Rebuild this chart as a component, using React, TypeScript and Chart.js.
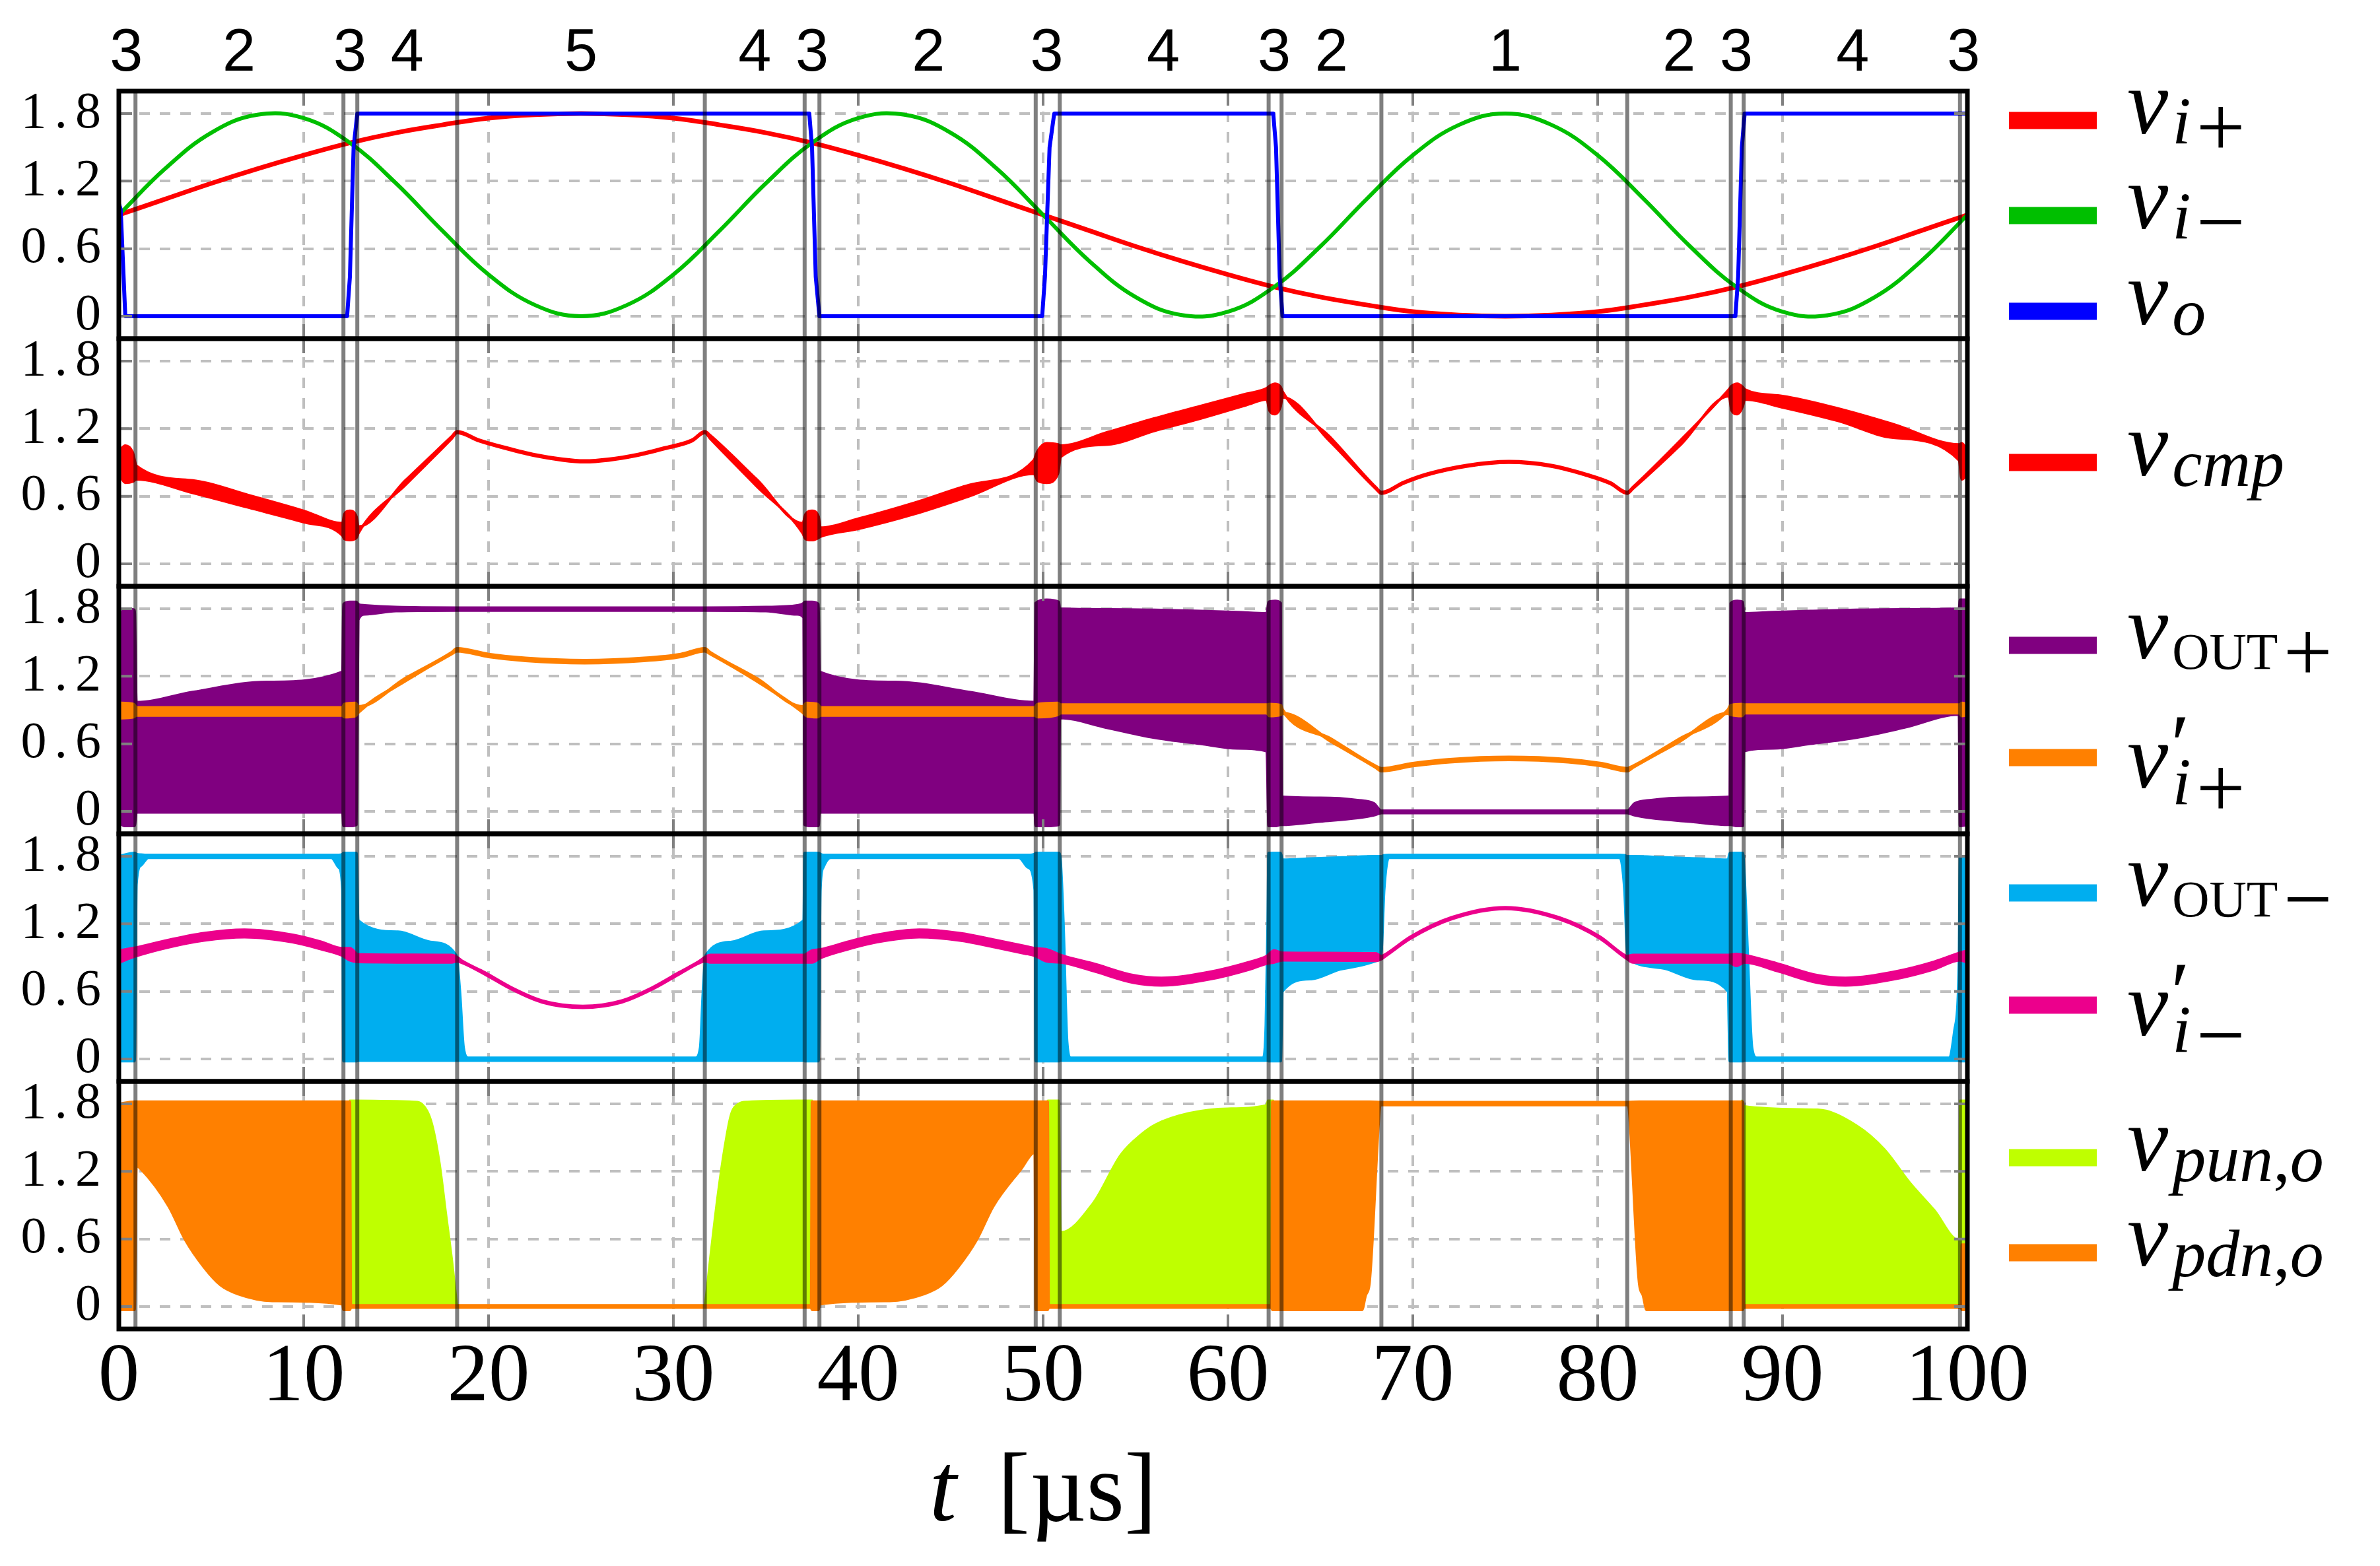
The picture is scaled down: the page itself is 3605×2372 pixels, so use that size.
import React, { useEffect, useRef } from 'react';
import { Chart, registerables } from 'chart.js';

Chart.register(...registerables);

const W = 3605;
const H = 2372;
const SERIF = '"Liberation Serif", "DejaVu Serif", serif';
const SANS = '"Liberation Sans", "DejaVu Sans", Arial, sans-serif';

const RED = '#ff0000';
const GREEN = '#00bf00';
const BLUE = '#0000ff';
const PURPLE = '#800080';
const ORANGE = '#ff8000';
const CYAN = '#00aeef';
const MAGENTA = '#ec008c';
const LIME = '#bfff00';
const GRID = '#bfbfbf';

// ---- axes / labels ----
const xTicks = [0, 10, 20, 30, 40, 50, 60, 70, 80, 90, 100];
const yTicks = [0, 0.6, 1.2, 1.8];
const yTickLabels = ['0', '0.6', '1.2', '1.8'];
const phaseLines = [0.9, 12.15, 12.9, 18.3, 31.7, 37.1, 37.9, 49.6, 50.9, 62.2, 62.9, 68.3, 81.6, 87.2, 87.9, 99.6];
const phaseLabelT = [0.4, 6.5, 12.5, 15.6, 25, 34.4, 37.5, 43.8, 50.2, 56.5, 62.5, 65.6, 75, 84.4, 87.5, 93.8, 99.8];
const phaseLabels = ['3', '2', '3', '4', '5', '4', '3', '2', '3', '4', '3', '2', '1', '2', '3', '4', '3'];

// ---- panel 1 ----
const tSine = [0, 2.5, 5, 7.5, 10, 12.5, 15, 17.5, 20, 22.5, 25, 27.5, 30, 32.5, 35, 37.5, 40, 42.5, 45, 47.5, 50, 52.5, 55, 57.5, 60, 62.5, 65, 67.5, 70, 72.5, 75, 77.5, 80, 82.5, 85, 87.5, 90, 92.5, 95, 97.5, 100];
const vIplus = [0.90, 1.04, 1.18, 1.31, 1.43, 1.54, 1.63, 1.70, 1.76, 1.79, 1.80, 1.79, 1.76, 1.70, 1.63, 1.54, 1.43, 1.31, 1.18, 1.04, 0.90, 0.76, 0.62, 0.49, 0.37, 0.26, 0.17, 0.10, 0.04, 0.01, 0.00, 0.01, 0.04, 0.10, 0.17, 0.26, 0.37, 0.49, 0.62, 0.76, 0.90];
const vIminus = [0.90, 1.31, 1.63, 1.79, 1.76, 1.54, 1.18, 0.76, 0.37, 0.10, 0.00, 0.10, 0.37, 0.76, 1.18, 1.54, 1.76, 1.79, 1.63, 1.31, 0.90, 0.49, 0.17, 0.01, 0.04, 0.26, 0.62, 1.04, 1.43, 1.70, 1.80, 1.70, 1.43, 1.04, 0.62, 0.26, 0.04, 0.01, 0.17, 0.49, 0.90];
const tVo = [0, 0.1, 0.35, 12.35, 12.5, 12.7, 12.9, 37.35, 37.5, 37.7, 37.9, 49.95, 50.1, 50.35, 50.6, 62.45, 62.6, 62.8, 62.95, 87.45, 87.6, 87.8, 87.95, 100];
const vO = [1.0, 0.95, 0.0, 0.0, 0.35, 1.5, 1.8, 1.8, 1.5, 0.35, 0.0, 0.0, 0.35, 1.5, 1.8, 1.8, 1.5, 0.35, 0.0, 0.0, 0.35, 1.5, 1.8, 1.8];

// ---- panel 2: v_cmp envelope ----
const tCmp = [0, 0.35, 0.75, 0.95, 4, 7, 10, 12.1, 12.2, 12.5, 12.85, 12.95, 15.5, 18.0, 18.3, 19.5, 21, 22.5, 24, 25.2, 26.5, 28, 29.5, 31, 31.7, 32.0, 34.5, 37.0, 37.15, 37.5, 37.85, 37.95, 40, 43, 46, 49.5, 49.7, 50.2, 50.8, 50.95, 53.5, 56, 58.5, 61, 62.1, 62.25, 62.55, 62.85, 62.95, 65.5, 68.0, 68.3, 69.5, 70.8, 72.9, 75.2, 77.5, 79.5, 80.7, 81.6, 81.9, 84.5, 87.1, 87.25, 87.55, 87.85, 87.95, 90, 93, 96, 99.55, 99.7, 100];
const vCmpHi = [1.00, 1.05, 0.99, 0.87, 0.74, 0.61, 0.47, 0.36, 0.44, 0.47, 0.42, 0.33, 0.74, 1.13, 1.177, 1.102, 1.032, 0.972, 0.932, 0.917, 0.932, 0.972, 1.032, 1.102, 1.177, 1.14, 0.75, 0.36, 0.44, 0.47, 0.42, 0.32, 0.40, 0.54, 0.70, 0.92, 1.00, 1.07, 1.06, 1.05, 1.17, 1.29, 1.40, 1.51, 1.56, 1.58, 1.60, 1.57, 1.53, 1.13, 0.68, 0.637, 0.727, 0.802, 0.877, 0.912, 0.877, 0.792, 0.722, 0.637, 0.68, 1.10, 1.55, 1.58, 1.60, 1.57, 1.55, 1.49, 1.38, 1.24, 1.06, 1.07, 1.00];
const vCmpLo = [0.80, 0.72, 0.73, 0.75, 0.63, 0.50, 0.37, 0.25, 0.22, 0.21, 0.23, 0.27, 0.70, 1.11, 1.163, 1.088, 1.018, 0.958, 0.918, 0.903, 0.918, 0.958, 1.018, 1.088, 1.163, 1.11, 0.69, 0.27, 0.22, 0.21, 0.23, 0.24, 0.31, 0.44, 0.60, 0.80, 0.74, 0.72, 0.80, 0.95, 1.06, 1.18, 1.29, 1.41, 1.46, 1.36, 1.33, 1.40, 1.48, 1.09, 0.665, 0.623, 0.713, 0.788, 0.863, 0.898, 0.863, 0.778, 0.708, 0.623, 0.665, 1.06, 1.49, 1.36, 1.33, 1.40, 1.46, 1.39, 1.27, 1.12, 0.92, 0.75, 0.80];

// ---- panel 3 ----
const tIpPrime = [0, 0.8, 0.95, 12.1, 12.2, 12.8, 12.95, 15.5, 18.0, 18.3, 20, 22, 25.2, 28.4, 30.4, 31.7, 32.0, 34.5, 37.0, 37.2, 37.8, 37.95, 49.55, 49.7, 50.8, 50.95, 62.1, 62.25, 62.85, 62.95, 65.6, 68.0, 68.3, 70, 72, 75.2, 78.4, 80.2, 81.6, 81.9, 84.4, 87.05, 87.2, 87.8, 87.95, 99.6, 99.7, 100];
const vIpPrimeHi = [0.96, 0.95, 0.92, 0.92, 0.95, 0.96, 0.93, 1.18, 1.41, 1.445, 1.395, 1.36, 1.34, 1.36, 1.395, 1.445, 1.41, 1.18, 0.93, 0.96, 0.95, 0.92, 0.92, 0.95, 0.96, 0.945, 0.945, 0.95, 0.94, 0.90, 0.64, 0.40, 0.38, 0.425, 0.46, 0.48, 0.46, 0.425, 0.38, 0.40, 0.64, 0.90, 0.94, 0.95, 0.945, 0.945, 0.96, 0.95];
const vIpPrimeLo = [0.83, 0.84, 0.855, 0.855, 0.84, 0.85, 0.88, 1.16, 1.40, 1.425, 1.375, 1.34, 1.32, 1.34, 1.375, 1.425, 1.40, 1.16, 0.88, 0.85, 0.84, 0.855, 0.855, 0.84, 0.86, 0.875, 0.875, 0.85, 0.86, 0.87, 0.62, 0.39, 0.36, 0.405, 0.44, 0.46, 0.44, 0.405, 0.36, 0.39, 0.62, 0.87, 0.86, 0.85, 0.875, 0.875, 0.85, 0.86];
const tOutP = [0, 0.3, 0.85, 0.95, 4, 8, 12.1, 12.15, 12.5, 12.85, 12.95, 13.3, 15, 18.3, 31.7, 35, 36.7, 37.05, 37.1, 37.5, 37.85, 37.9, 42, 46, 49.55, 49.6, 50.2, 50.85, 50.9, 53.4, 56, 58.5, 60.5, 62.1, 62.2, 62.55, 62.85, 62.9, 65, 67, 67.9, 68.3, 81.6, 82.0, 82.9, 84.9, 87.15, 87.2, 87.55, 87.85, 87.9, 89.5, 91.5, 94, 96.6, 99.55, 99.6, 100];
const vOutPHi = [1.70, 1.80, 1.79, 0.97, 1.06, 1.15, 1.24, 1.84, 1.86, 1.86, 1.84, 1.83, 1.815, 1.81, 1.81, 1.815, 1.83, 1.85, 1.86, 1.86, 1.84, 1.24, 1.15, 1.06, 0.97, 1.85, 1.88, 1.86, 1.80, 1.795, 1.79, 1.78, 1.77, 1.76, 1.86, 1.87, 1.85, 0.13, 0.12, 0.10, 0.07, 0.005, 0.005, 0.07, 0.10, 0.12, 0.13, 1.85, 1.87, 1.86, 1.76, 1.77, 1.78, 1.79, 1.795, 1.80, 1.88, 1.88];
const vOutPLo = [-0.10, -0.13, -0.13, -0.01, -0.01, -0.01, -0.01, -0.13, -0.13, -0.12, 1.70, 1.75, 1.78, 1.785, 1.785, 1.78, 1.75, 1.72, -0.12, -0.13, -0.13, -0.01, -0.01, -0.01, -0.01, -0.13, -0.13, -0.12, 0.83, 0.745, 0.655, 0.60, 0.56, 0.535, -0.13, -0.13, -0.12, -0.12, -0.09, -0.06, -0.035, -0.015, -0.015, -0.035, -0.06, -0.09, -0.12, -0.12, -0.13, -0.13, 0.535, 0.56, 0.60, 0.655, 0.745, 0.86, -0.13, -0.12];

// ---- panel 4 ----
const tImPrime = [0, 0.9, 2.7, 4.6, 6.8, 9.4, 10.9, 12.1, 12.5, 12.95, 18.0, 18.3, 18.6, 19.8, 21.2, 22.9, 25.1, 27.2, 28.9, 30.3, 31.4, 31.7, 32.0, 37.05, 37.5, 37.95, 39.5, 41, 43.3, 45.5, 47.4, 49.0, 49.55, 50.2, 50.95, 52.7, 54.9, 56.4, 59, 61.2, 62.1, 62.5, 62.95, 68.0, 68.3, 68.6, 69.9, 72.1, 75, 77.9, 80.1, 81.3, 81.6, 81.9, 87.1, 87.5, 87.95, 89.7, 91.9, 93.4, 96, 98.2, 99.6, 100];
const vImPrimeHi = [0.96, 0.985, 1.055, 1.115, 1.145, 1.10, 1.04, 0.98, 0.98, 0.925, 0.92, 0.90, 0.865, 0.765, 0.635, 0.515, 0.467, 0.515, 0.635, 0.765, 0.865, 0.90, 0.92, 0.92, 0.96, 0.97, 1.04, 1.10, 1.145, 1.115, 1.055, 1.00, 0.98, 0.97, 0.92, 0.845, 0.74, 0.717, 0.77, 0.86, 0.91, 0.96, 0.94, 0.935, 0.91, 0.935, 1.085, 1.255, 1.345, 1.255, 1.085, 0.935, 0.91, 0.92, 0.92, 0.93, 0.92, 0.845, 0.74, 0.717, 0.77, 0.86, 0.94, 0.96];
const vImPrimeLo = [0.86, 0.915, 0.995, 1.055, 1.085, 1.04, 0.98, 0.92, 0.88, 0.865, 0.86, 0.87, 0.855, 0.755, 0.625, 0.505, 0.457, 0.505, 0.625, 0.755, 0.855, 0.87, 0.86, 0.86, 0.86, 0.90, 0.98, 1.04, 1.085, 1.055, 0.995, 0.94, 0.92, 0.87, 0.86, 0.785, 0.68, 0.657, 0.71, 0.80, 0.85, 0.86, 0.88, 0.875, 0.89, 0.925, 1.075, 1.245, 1.335, 1.245, 1.075, 0.925, 0.89, 0.86, 0.86, 0.83, 0.86, 0.785, 0.68, 0.657, 0.71, 0.80, 0.88, 0.86];
const tOutM = [0, 0.85, 0.95, 1.2, 1.6, 11.5, 11.9, 12.1, 12.15, 12.85, 12.95, 15.1, 16.85, 18.25, 18.45, 18.65, 18.9, 31.2, 31.45, 31.6, 31.75, 33.15, 34.9, 37.05, 37.1, 37.85, 37.95, 38.1, 38.5, 48.7, 49.2, 49.55, 49.6, 50.85, 50.95, 51.1, 51.3, 51.5, 61.9, 62.05, 62.15, 62.2, 62.85, 62.95, 64.5, 66.2, 68.1, 68.3, 68.45, 68.7, 81.2, 81.45, 81.6, 81.8, 83.7, 85.4, 87.05, 87.15, 87.85, 87.95, 88.1, 88.35, 88.6, 99.0, 99.3, 99.55, 99.6, 100];
const vOutMHi = [1.80, 1.83, 1.82, 1.815, 1.812, 1.812, 1.812, 1.82, 1.83, 1.83, 1.23, 1.13, 1.04, 0.92, 0.60, 0.10, 0.01, 0.01, 0.10, 0.60, 0.92, 1.04, 1.13, 1.23, 1.83, 1.83, 1.82, 1.812, 1.812, 1.812, 1.812, 1.82, 1.83, 1.83, 1.75, 1.20, 0.15, 0.01, 0.01, 0.30, 1.20, 1.83, 1.83, 1.77, 1.78, 1.79, 1.80, 1.80, 1.81, 1.812, 1.812, 1.81, 1.80, 1.80, 1.79, 1.78, 1.77, 1.83, 1.83, 1.60, 1.00, 0.10, 0.01, 0.01, 0.25, 0.90, 1.80, 1.80];
const vOutMLo = [-0.02, -0.02, 1.55, 1.72, 1.788, 1.788, 1.70, 1.50, -0.02, -0.02, -0.015, -0.015, -0.015, -0.015, -0.015, -0.015, -0.015, -0.015, -0.015, -0.015, -0.015, -0.015, -0.015, -0.015, -0.02, -0.02, 1.50, 1.70, 1.788, 1.788, 1.70, 1.50, -0.02, -0.02, -0.015, -0.015, -0.015, -0.015, -0.015, -0.015, -0.015, -0.02, -0.02, 0.60, 0.71, 0.80, 0.875, 0.95, 1.50, 1.788, 1.788, 1.50, 0.95, 0.875, 0.80, 0.71, 0.60, -0.02, -0.02, -0.015, -0.015, -0.015, -0.015, -0.015, -0.015, -0.015, -0.02, -0.02];

// ---- panel 5 ----
const tPdn = [0, 0.85, 0.95, 1.2, 2.7, 3.6, 4.6, 5.5, 6.45, 8.3, 12.1, 12.15, 12.5, 12.55, 37.45, 37.5, 37.85, 37.9, 41.7, 43.55, 44.5, 45.4, 46.4, 47.3, 48.8, 49.55, 49.6, 50.25, 50.3, 62.35, 62.4, 67.25, 67.45, 67.65, 68.3, 81.6, 82.25, 82.45, 82.65, 87.85, 87.9, 99.65, 99.7, 100];
const vPdnHi = [1.80, 1.82, 1.82, 1.82, 1.82, 1.82, 1.82, 1.82, 1.82, 1.82, 1.82, 1.82, 1.82, 0.01, 0.01, 1.82, 1.82, 1.82, 1.82, 1.82, 1.82, 1.82, 1.82, 1.82, 1.82, 1.82, 1.82, 1.82, 0.01, 0.01, 1.82, 1.82, 1.82, 1.82, 1.815, 1.815, 1.82, 1.82, 1.82, 1.82, 0.01, 0.01, 0.55, 0.55];
const vPdnLo = [-0.03, -0.03, 1.25, 1.22, 0.89, 0.59, 0.35, 0.19, 0.11, 0.05, 0.02, -0.03, -0.03, -0.01, -0.01, -0.03, -0.03, 0.02, 0.05, 0.11, 0.19, 0.35, 0.59, 0.89, 1.22, 1.37, -0.03, -0.03, -0.01, -0.01, -0.03, -0.03, 0.10, 0.20, 1.79, 1.79, 0.20, 0.10, -0.03, -0.03, -0.01, -0.01, -0.03, -0.03];
const tPun = [12.5, 16.0, 16.4, 16.9, 17.35, 17.7, 18.05, 18.3, 25, 31.7, 32.0, 32.4, 32.75, 33.1, 33.5, 34.0, 37.5, 44, 50.25, 50.85, 50.95, 52.7, 54.2, 55.3, 56.1, 57.9, 60, 62.1, 62.15, 62.45, 75, 87.8, 87.95, 91.9, 94.0, 95.5, 96.9, 98.2, 99.55, 99.6, 100];
const vPun = [1.83, 1.82, 1.80, 1.65, 1.28, 0.83, 0.38, 0.0, null, 0.0, 0.45, 1.00, 1.40, 1.70, 1.80, 1.82, 1.83, null, 1.83, 1.83, 0.66, 0.92, 1.35, 1.53, 1.62, 1.72, 1.76, 1.79, 1.83, 1.83, null, 1.83, 1.78, 1.75, 1.61, 1.40, 1.10, 0.86, 0.59, 1.83, 1.83];

// ---- legend content ----
type Seg = [string, 'it' | 'rm' | 'op' | 'pc'];
interface Entry { color: string; prime: boolean; sub: Seg[] }
const legendPanels: Entry[][] = [
  [
    { color: RED, prime: false, sub: [['i', 'it'], ['+', 'op']] },
    { color: GREEN, prime: false, sub: [['i', 'it'], ['\u2212', 'op']] },
    { color: BLUE, prime: false, sub: [['o', 'it']] },
  ],
  [{ color: RED, prime: false, sub: [['cmp', 'it']] }],
  [
    { color: PURPLE, prime: false, sub: [['OUT', 'rm'], ['+', 'op']] },
    { color: ORANGE, prime: true, sub: [['i', 'it'], ['+', 'op']] },
  ],
  [
    { color: CYAN, prime: false, sub: [['OUT', 'rm'], ['\u2212', 'op']] },
    { color: MAGENTA, prime: true, sub: [['i', 'it'], ['\u2212', 'op']] },
  ],
  [
    { color: LIME, prime: false, sub: [['pun', 'it'], [',', 'pc'], ['o', 'it']] },
    { color: ORANGE, prime: false, sub: [['pdn', 'it'], [',', 'pc'], ['o', 'it']] },
  ],
];
const legendDy = [[-143, 1, 146], [0], [-98, 72], [-98, 72], [-72, 72]];
const SUBFONT: Record<string, string> = {
  it: `italic 102px ${SERIF}`,
  rm: `78px ${SERIF}`,
  op: `132px ${SERIF}`,
  pc: `102px ${SERIF}`,
};

const PANELS = ['y1', 'y2', 'y3', 'y4', 'y5'];

const mk = (t: number[], v: (number | null)[]) => t.map((x, i) => ({ x, y: v[i] }));

const lineDs = (t: number[], v: (number | null)[], color: string, width: number, yAxisID: string, extra: any = {}) => ({
  type: 'line',
  data: mk(t, v),
  borderColor: color,
  backgroundColor: color,
  borderWidth: width,
  pointRadius: 0,
  pointHoverRadius: 0,
  fill: false,
  xAxisID: 'x',
  yAxisID,
  borderJoinStyle: 'round',
  borderCapStyle: 'round',
  spanGaps: false,
  ...extra,
});

const bandDs = (t: number[], hi: number[], lo: number[], color: string, width: number, yAxisID: string) => [
  lineDs(t, hi, color, width, yAxisID, { fill: '+1', cubicInterpolationMode: 'monotone' }),
  lineDs(t, lo, color, width, yAxisID, { cubicInterpolationMode: 'monotone' }),
];

const buildDatasets = () => [
  lineDs(tVo, vO, BLUE, 6, 'y1', { tension: 0 }),
  lineDs(tSine, vIminus, GREEN, 6, 'y1', { tension: 0.4 }),
  lineDs(tSine, vIplus, RED, 7, 'y1', { tension: 0.4 }),
  ...bandDs(tCmp, vCmpHi, vCmpLo, RED, 4, 'y2'),
  ...bandDs(tIpPrime, vIpPrimeHi, vIpPrimeLo, ORANGE, 5, 'y3'),
  ...bandDs(tOutP, vOutPHi, vOutPLo, PURPLE, 4, 'y3'),
  ...bandDs(tImPrime, vImPrimeHi, vImPrimeLo, MAGENTA, 5, 'y4'),
  ...bandDs(tOutM, vOutMHi, vOutMLo, CYAN, 4, 'y4'),
  ...bandDs(tPdn, vPdnHi, vPdnLo, ORANGE, 4, 'y5'),
  lineDs(tPun, vPun, LIME, 3, 'y5', { fill: { value: 0 }, cubicInterpolationMode: 'monotone' }),
];

const drawEntry = (ctx: CanvasRenderingContext2D, x: number, yc: number, e: Entry) => {
  ctx.fillStyle = e.color;
  ctx.fillRect(x, yc - 13, 133, 26);
  ctx.fillStyle = '#000';
  ctx.textAlign = 'left';
  ctx.textBaseline = 'alphabetic';
  const tx = x + 179;
  const base = yc + (e.prime ? 45 : 19);
  ctx.font = `italic 140px ${SERIF}`;
  ctx.fillText('v', tx, base);
  const vw = ctx.measureText('v').width;
  if (e.prime) {
    ctx.font = `130px ${SERIF}`;
    ctx.fillText('\u2032', tx + vw + 4, base - 22);
  }
  let sx = tx + vw + 6;
  const sb = base + (e.prime ? 26 : 16);
  e.sub.forEach(([s, st]) => {
    ctx.font = SUBFONT[st];
    if (st === 'op') {
      sx += 8;
      ctx.fillText(s, sx, sb + 18);
    } else {
      ctx.fillText(s, sx, sb);
    }
    sx += ctx.measureText(s).width;
  });
};

const overlayPlugin = {
  id: 'overlay',
  afterDatasetsDraw(chart: any) {
    const ctx: CanvasRenderingContext2D = chart.ctx;
    const xs = chart.scales.x;
    const { left, right } = chart.chartArea;
    const top = chart.scales.y1.top;
    const bottom = chart.scales.y5.bottom;
    ctx.save();
    ctx.setLineDash([]);
    ctx.lineWidth = 6;
    ctx.strokeStyle = 'rgba(0,0,0,0.5)';
    phaseLines.forEach((t) => {
      const px = xs.getPixelForValue(t);
      ctx.beginPath();
      ctx.moveTo(px, top);
      ctx.lineTo(px, bottom);
      ctx.stroke();
    });
    ctx.lineWidth = 4;
    ctx.strokeStyle = '#808080';
    PANELS.forEach((id) => {
      const ys = chart.scales[id];
      yTicks.forEach((v) => {
        const py = ys.getPixelForValue(v);
        ctx.beginPath();
        ctx.moveTo(left, py);
        ctx.lineTo(left + 20, py);
        ctx.moveTo(right - 20, py);
        ctx.lineTo(right, py);
        ctx.stroke();
      });
      xTicks.forEach((v) => {
        const px = xs.getPixelForValue(v);
        ctx.beginPath();
        ctx.moveTo(px, ys.top);
        ctx.lineTo(px, ys.top + 22);
        ctx.moveTo(px, ys.bottom - 22);
        ctx.lineTo(px, ys.bottom);
        ctx.stroke();
      });
    });
    ctx.lineWidth = 7;
    ctx.strokeStyle = '#000';
    PANELS.forEach((id) => {
      const ys = chart.scales[id];
      ctx.strokeRect(left, ys.top, right - left, ys.bottom - ys.top);
    });
    ctx.restore();
  },
  afterDraw(chart: any) {
    const ctx: CanvasRenderingContext2D = chart.ctx;
    const { left, right } = chart.chartArea;
    ctx.save();
    // y tick labels of each panel (right-aligned, Computer-Modern-like spacing)
    ctx.fillStyle = '#000';
    ctx.font = `78px ${SERIF}`;
    ctx.textAlign = 'right';
    ctx.textBaseline = 'middle';
    const ls = 12;
    try {
      (ctx as any).letterSpacing = `${ls}px`;
    } catch (e) {
      /* ignore */
    }
    const hasLs = (ctx as any).letterSpacing === `${ls}px`;
    PANELS.forEach((id) => {
      const ys = chart.scales[id];
      yTicks.forEach((v, k) => {
        const py = ys.getPixelForValue(v);
        ctx.fillText(yTickLabels[k], left - 27 + (hasLs ? ls : 0), py);
      });
    });
    try {
      (ctx as any).letterSpacing = '0px';
    } catch (e) {
      /* ignore */
    }
    PANELS.forEach((id, pi) => {
      const ys = chart.scales[id];
      const yc = (ys.top + ys.bottom) / 2;
      legendPanels[pi].forEach((e, k) => drawEntry(ctx, right + 63, yc + legendDy[pi][k], e));
    });
    // x-axis title: italic t [µs]
    const cx = (left + right) / 2;
    const by = chart.scales.y5.bottom + 290;
    ctx.fillStyle = '#000';
    ctx.textAlign = 'left';
    ctx.textBaseline = 'alphabetic';
    ctx.font = `italic 148px ${SERIF}`;
    const tw = ctx.measureText('t').width;
    ctx.font = `148px ${SERIF}`;
    const unit = '[\u00b5s]';
    const rw = ctx.measureText(unit).width;
    const gap = 62;
    const x0 = cx - (tw + gap + rw) / 2;
    ctx.font = `italic 148px ${SERIF}`;
    ctx.fillText('t', x0, by);
    ctx.font = `148px ${SERIF}`;
    ctx.fillText(unit, x0 + tw + gap, by);
    ctx.restore();
  },
};

const yAxis = (i: number) => ({
  type: 'linear',
  position: 'left',
  stack: 'panels',
  stackWeight: 1,
  weight: 5 - i,
  min: -0.2,
  max: 2.0,
  afterBuildTicks: (s: any) => {
    s.ticks = yTicks.map((v) => ({ value: v }));
  },
  afterFit: (s: any) => {
    s.width = 180;
  },
  ticks: { display: false },
  grid: { color: GRID, lineWidth: 4, drawTicks: false },
  border: { display: false, dash: [16, 15] },
});

export default function App() {
  const ref = useRef<HTMLCanvasElement | null>(null);
  useEffect(() => {
    if (!ref.current) return;
    const scales: any = {
      x: {
        type: 'linear',
        position: 'bottom',
        min: 0,
        max: 100,
        afterBuildTicks: (s: any) => {
          s.ticks = xTicks.map((v) => ({ value: v }));
        },
        afterFit: (s: any) => {
          s.height = 359;
        },
        ticks: {
          autoSkip: false,
          maxRotation: 0,
          minRotation: 0,
          padding: 0,
          color: '#000',
          font: { family: SERIF, size: 125, weight: 'normal' },
          callback: (v: number) => String(v),
        },
        grid: {
          color: (c: any) => (c.tick && (c.tick.value === 0 || c.tick.value === 100) ? 'rgba(0,0,0,0)' : GRID),
          lineWidth: 4,
          drawTicks: false,
        },
        border: { display: false, dash: [16, 15] },
      },
      x2: {
        type: 'linear',
        position: 'top',
        min: 0,
        max: 100,
        afterBuildTicks: (s: any) => {
          s.ticks = phaseLabelT.map((v) => ({ value: v }));
        },
        afterFit: (s: any) => {
          s.height = 138;
        },
        ticks: {
          autoSkip: false,
          maxRotation: 0,
          minRotation: 0,
          padding: 2,
          color: '#000',
          font: { family: SANS, size: 90, weight: 'normal' },
          callback: (_v: number, i: number) => phaseLabels[i],
        },
        grid: { display: false, drawTicks: false },
        border: { display: false },
      },
    };
    PANELS.forEach((id, i) => {
      scales[id] = yAxis(i);
    });
    const chart = new Chart(ref.current, {
      type: 'line',
      data: { datasets: buildDatasets() as any },
      options: {
        responsive: false,
        animation: false,
        events: [],
        layout: { padding: { left: 0, top: 0, right: 625, bottom: 0 } },
        plugins: {
          legend: { display: false },
          tooltip: { enabled: false },
          title: { display: false },
        },
        scales,
      },
      plugins: [overlayPlugin],
    } as any);
    return () => chart.destroy();
  }, []);
  return (
    <div style={{ position: 'absolute', left: 0, top: 0, width: W, height: H, background: '#fff' }}>
      <canvas ref={ref} width={W} height={H} style={{ width: W, height: H, display: 'block' }} />
    </div>
  );
}
